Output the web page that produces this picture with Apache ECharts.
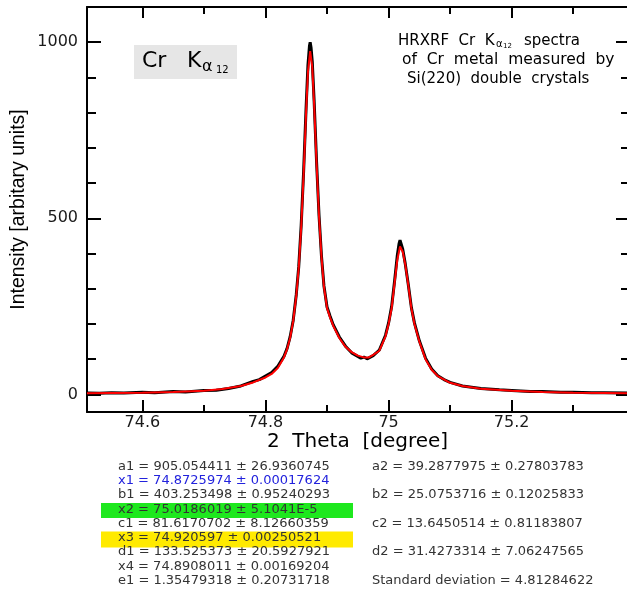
<!DOCTYPE html>
<html><head><meta charset="utf-8">
<script src="https://cdn.jsdelivr.net/npm/echarts@6/dist/echarts.min.js"></script>
<style>html,body{margin:0;padding:0;background:#fff}#c{width:627px;height:592px}</style>
</head><body><div id="c"></div>
<script>
// ---- data ----
const fitX = [74.51,74.55,74.6,74.65,74.7,74.73,74.76,74.78,74.8,74.81,74.82,74.83,74.835,74.84,74.845,74.85,74.854,74.858,74.862,74.866,74.869,74.8726,74.876,74.879,74.883,74.887,74.891,74.895,74.9,74.905,74.91,74.92,74.93,74.94,74.95,74.96,74.968,74.975,74.985,74.995,75.0,75.005,75.01,75.014,75.0186,75.023,75.027,75.032,75.037,75.042,75.05,75.06,75.07,75.08,75.1,75.12,75.15,75.2,75.25,75.3,75.35,75.389];
const fitY = [3,4,5,7,10,15,24,34,48,58,75,105,128,160,208,280,359,474,626,802,916,975,930,825,655,505,390,305,245,218,195,160,135,120,110,105,105,112,124,165,200,245,320,380,420,405,370,310,245,200,150,100,70,52,33,24,16,10,7,5,4,3];
const dataX = [74.51,74.53,74.55,74.57,74.6,74.62,74.65,74.67,74.7,74.72,74.74,74.76,74.78,74.79,74.8,74.81,74.82,74.83,74.835,74.84,74.845,74.85,74.854,74.858,74.862,74.866,74.869,74.8715,74.8726,74.874,74.876,74.879,74.883,74.887,74.891,74.895,74.9,74.905,74.91,74.92,74.93,74.94,74.95,74.955,74.96,74.965,74.968,74.975,74.985,74.995,75.0,75.005,75.01,75.014,75.017,75.0186,75.02,75.023,75.027,75.032,75.037,75.042,75.05,75.06,75.07,75.08,75.09,75.1,75.12,75.15,75.18,75.2,75.23,75.25,75.28,75.3,75.33,75.35,75.389];
const dataY = [4,3,5,4,6,5,8,7,11,12,17,24,37,42,52,62,80,108,130,163,210,283,362,480,635,815,935,990,1000,985,945,835,660,508,392,308,248,222,198,163,137,118,108,103,106,101,105,110,126,168,203,250,326,392,428,438,433,412,372,312,247,203,152,103,72,53,42,34,24,17,13,11,8,8,6,6,5,5,4];
const xMajorTicks = [74.6, 74.8, 75, 75.2];
const xMinorTicks = [74.7, 74.9, 75.1, 75.3];
const yMajorTicks = [0, 500, 1000];
const yMinorTicks = [100, 200, 300, 400, 600, 700, 800, 900];
const paramsLeft = [
  'a1 = 905.054411 ± 26.9360745',
  'x1 = 74.8725974 ± 0.00017624',
  'b1 = 403.253498 ± 0.95240293',
  'x2 = 75.0186019 ± 5.1041E-5',
  'c1 = 81.6170702 ± 8.12660359',
  'x3 = 74.920597 ± 0.00250521',
  'd1 = 133.525373 ± 20.5927921',
  'x4 = 74.8908011 ± 0.00169204',
  'e1 = 1.35479318 ± 0.20731718'
];
const paramsRight = [
  'a2 = 39.2877975 ± 0.27803783',
  'b2 = 25.0753716 ± 0.12025833',
  'c2 = 13.6450514 ± 0.81183807',
  'd2 = 31.4273314 ± 7.06247565',
  'Standard deviation = 4.81284622'
];
const X_MIN = 74.51, X_MAX = 75.389, Y_MIN = -50, Y_MAX = 1100;

// ---- chart ----
const F = 'DejaVu Sans';
const AX = '#000';
const plain = v => String(Math.round(v * 1000) / 1000);
function xAx(pos, ticks, len, main) {
  return {
    type: 'value', position: pos, min: X_MIN, max: X_MAX,
    axisLine: { show: main, onZero: false, lineStyle: { color: AX, width: 2 } },
    axisTick: { show: true, inside: true, length: len, customValues: ticks, lineStyle: { color: AX, width: 2 } },
    axisLabel: (main && pos === 'bottom') ? { show: true, customValues: ticks, margin: 3, fontFamily: F, fontSize: 16, color: '#1a1a1a', formatter: plain } : { show: false },
    splitLine: { show: false },
    name: (main && pos === 'bottom') ? '2  Theta  [degree]' : '',
    nameLocation: 'middle', nameGap: 20, nameMoveOverlap: false,
    nameTextStyle: { fontFamily: F, fontSize: 20, color: '#000' }
  };
}
function yAx(pos, ticks, len, main) {
  return {
    type: 'value', position: pos, min: Y_MIN, max: Y_MAX,
    axisLine: { show: main, onZero: false, lineStyle: { color: AX, width: 2 } },
    axisTick: { show: true, inside: true, length: len, customValues: ticks, lineStyle: { color: AX, width: 2 } },
    axisLabel: (main && pos === 'left') ? { show: true, customValues: ticks, margin: 9, fontFamily: F, fontSize: 16, color: '#1a1a1a', formatter: plain } : { show: false },
    splitLine: { show: false },
    name: (main && pos === 'left') ? 'Intensity [arbitary units]' : '',
    nameLocation: 'middle', nameGap: 58, nameMoveOverlap: false,
    nameTextStyle: { fontFamily: 'Liberation Sans', fontSize: 19.5, color: '#000' }
  };
}
const txt = (text, x, y, size, extra) => ({
  type: 'text', x: x, y: y, silent: true,
  style: Object.assign({ text: text, font: size + 'px "' + F + '"', fill: '#000', textAlign: 'left', textVerticalAlign: 'middle' }, extra || {})
});
const graphics = [];
// Cr K alpha box
graphics.push({ type: 'rect', shape: { x: 134, y: 45, width: 103, height: 34 }, style: { fill: '#e6e6e6' }, silent: true, z: 0 });
graphics.push(txt('Cr', 142, 61.5, 22));
graphics.push(txt('K', 187, 61.5, 22));
graphics.push(txt('α', 202, 67, 16));
graphics.push(txt('12', 216, 70, 10));
// top-right annotation
graphics.push(txt('HRXRF  Cr  K', 398, 41, 15));
graphics.push(txt('α', 496, 44, 10));
graphics.push(txt('12', 503, 46, 7));
graphics.push(txt('spectra', 524, 41, 15));
graphics.push(txt('of  Cr  metal  measured  by', 402, 60, 15.5));
graphics.push(txt('Si(220)  double  crystals', 407, 79, 15));
// parameter table
graphics.push({ type: 'rect', shape: { x: 101, y: 503, width: 252, height: 15 }, style: { fill: '#1ee81e' }, silent: true });
graphics.push({ type: 'rect', shape: { x: 101, y: 531.5, width: 252, height: 16 }, style: { fill: '#ffea00' }, silent: true });
paramsLeft.forEach((t, i) => {
  graphics.push(txt(t, 118, 466.5 + i * 14.25, 13, { fill: i === 1 ? '#2222dd' : '#333' }));
});
paramsRight.forEach((t, i) => {
  graphics.push(txt(t, 372, 466.5 + i * 28.5, 13, { fill: '#333' }));
});

const option = {
  animation: false,
  backgroundColor: '#fff',
  grid: { left: 87, top: 7, right: -1, bottom: 180, containLabel: false, outerBoundsMode: 'none' },
  xAxis: [xAx('bottom', xMajorTicks, 12, true), xAx('bottom', xMinorTicks, 7, false),
          xAx('top', xMajorTicks, 11, true), xAx('top', xMinorTicks, 7, false)],
  yAxis: [yAx('left', yMajorTicks, 14, true), yAx('left', yMinorTicks, 9, false),
          yAx('right', yMajorTicks, 12, true), yAx('right', yMinorTicks, 7, false)],
  series: [
    { type: 'line', name: 'data', xAxisIndex: 0, yAxisIndex: 0, showSymbol: false, symbol: 'none',
      data: dataX.map((x, i) => [x, dataY[i]]), lineStyle: { color: '#000', width: 3 }, z: 2 },
    { type: 'line', name: 'fit', xAxisIndex: 0, yAxisIndex: 0, showSymbol: false, symbol: 'none',
      data: fitX.map((x, i) => [x, fitY[i]]), lineStyle: { color: '#ff0000', width: 2 }, z: 3 }
  ],
  graphic: graphics
};
const chart = echarts.init(document.getElementById('c'), null, { renderer: 'canvas' });
chart.setOption(option);
</script>
</body></html>
